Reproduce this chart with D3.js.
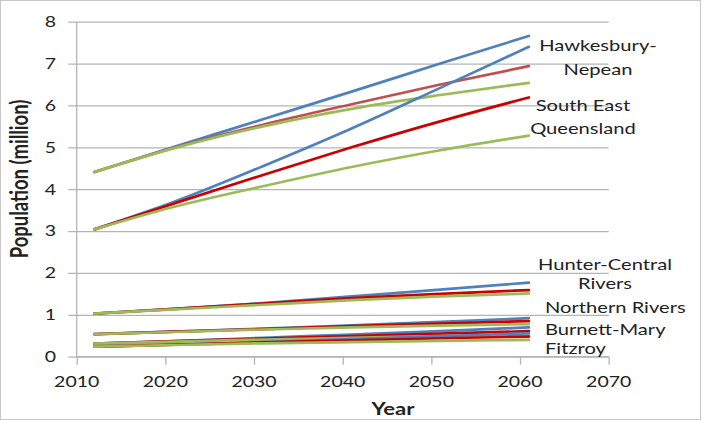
<!DOCTYPE html>
<html>
<head>
<meta charset="utf-8">
<script src="https://cdn.jsdelivr.net/npm/d3@7"></script>
<style>
  html, body { margin: 0; padding: 0; background: #fff; }
  svg { display: block; }
  text { font-family: Lato, "Open Sans", "Noto Sans", sans-serif; fill: #222; }
</style>
</head>
<body>
<div id="chart"></div>
<script>
// Projection years shared by every series
const years = [2012, 2021, 2031, 2041, 2051, 2061];

// Population projections (million), high / medium / low growth
const hawkesburyHigh = [4.41, 5.01, 5.67, 6.33, 7.00, 7.66];
const hawkesburyMed  = [4.41, 4.99, 5.54, 6.03, 6.50, 6.94];
const hawkesburyLow  = [4.41, 4.98, 5.50, 5.92, 6.25, 6.54];

const seqHigh = [3.04, 3.70, 4.55, 5.45, 6.42, 7.40];
const seqMed  = [3.04, 3.66, 4.34, 5.00, 5.62, 6.19];
const seqLow  = [3.04, 3.58, 4.07, 4.53, 4.93, 5.28];

const hunterHigh = [1.03, 1.14, 1.28, 1.44, 1.60, 1.77];
const hunterMed  = [1.03, 1.14, 1.27, 1.40, 1.50, 1.59];
const hunterLow  = [1.03, 1.13, 1.24, 1.35, 1.44, 1.51];

const northernHigh = [0.54, 0.60, 0.67, 0.75, 0.83, 0.92];
const northernMed  = [0.54, 0.60, 0.66, 0.73, 0.79, 0.85];
const northernLow  = [0.54, 0.59, 0.65, 0.70, 0.74, 0.78];

const burnettHigh = [0.31, 0.37, 0.45, 0.53, 0.61, 0.70];
const burnettMed  = [0.31, 0.37, 0.43, 0.49, 0.55, 0.61];
const burnettLow  = [0.31, 0.36, 0.41, 0.45, 0.49, 0.52];

const fitzroyHigh = [0.24, 0.29, 0.35, 0.42, 0.49, 0.56];
const fitzroyMed  = [0.24, 0.29, 0.34, 0.39, 0.44, 0.48];
const fitzroyLow  = [0.24, 0.28, 0.32, 0.35, 0.38, 0.40];

// Axis ticks
const xTicks = [2010, 2020, 2030, 2040, 2050, 2060, 2070];
const yTicks = [0, 1, 2, 3, 4, 5, 6, 7, 8];

// Colours per growth scenario
const blue = "#4F81BD", brick = "#C0504D", red = "#CC0000", green = "#9BBB59";

// Drawing order: high, medium, low (low growth ends up on top)
const series = [
  { v: hawkesburyHigh, c: blue }, { v: hawkesburyMed, c: brick }, { v: hawkesburyLow, c: green },
  { v: seqHigh, c: blue }, { v: seqMed, c: red }, { v: seqLow, c: green },
  { v: hunterHigh, c: blue }, { v: hunterMed, c: red }, { v: hunterLow, c: green },
  { v: northernHigh, c: blue }, { v: northernMed, c: red }, { v: northernLow, c: green },
  { v: burnettHigh, c: blue }, { v: burnettMed, c: red }, { v: burnettLow, c: green },
  { v: fitzroyHigh, c: blue }, { v: fitzroyMed, c: red }, { v: fitzroyLow, c: green }
];

const W = 705, H = 421;
const plot = { left: 76.7, right: 608.7, top: 21.7, bottom: 356.7 };
const SX = 1.3; // horizontal text widening

const svg = d3.select("#chart").append("svg")
  .attr("width", W).attr("height", H);

// outer frame
svg.append("rect")
  .attr("x", 0.5).attr("y", 0.5).attr("width", 700).attr("height", 419)
  .attr("fill", "#fff").attr("stroke", "#c8c8c8").attr("stroke-width", 1);

const x = d3.scaleLinear().domain([2010, 2070]).range([plot.left, plot.right]);
const y = d3.scaleLinear().domain([0, 8]).range([plot.bottom, plot.top]);

function label(sel, px, py, str, anchor, opts = {}) {
  const g = sel.append("g")
    .attr("transform", `translate(${px},${py}) scale(${SX},1)` + (opts.rotate ? ` rotate(${opts.rotate})` : ""));
  const t = g.append("text")
    .attr("text-anchor", anchor)
    .attr("font-size", opts.size || 15)
    .text(str);
  if (opts.bold) t.attr("font-weight", "bold");
  if (opts.dy) t.attr("dy", opts.dy);
  return t;
}

// horizontal gridlines + y axis ticks
const yAxis = d3.axisLeft(y).tickValues(yTicks).tickSize(-(plot.right - plot.left)).tickFormat("");
svg.append("g")
  .attr("transform", `translate(${plot.left},0)`)
  .call(yAxis)
  .call(g => g.select(".domain").remove())
  .call(g => g.selectAll(".tick line")
    .attr("x1", -8.5)
    .attr("stroke", "#b4b4b4").attr("stroke-width", 1.3));

// y axis line
svg.append("line")
  .attr("x1", plot.left).attr("x2", plot.left)
  .attr("y1", plot.top).attr("y2", plot.bottom)
  .attr("stroke", "#b4b4b4").attr("stroke-width", 1.3);

// x axis with downward ticks
const xAxis = d3.axisBottom(x).tickValues(xTicks).tickSize(8).tickFormat("");
svg.append("g")
  .attr("transform", `translate(0,${plot.bottom})`)
  .call(xAxis)
  .call(g => g.select(".domain").attr("d", `M${plot.left},0H${plot.right}`)
    .attr("stroke", "#b4b4b4").attr("stroke-width", 1.3))
  .call(g => g.selectAll(".tick line").attr("stroke", "#b4b4b4").attr("stroke-width", 1.3));

// tick labels
yTicks.forEach(v => label(svg, 56, y(v), String(v), "end", { size: 15, dy: "0.36em" }));
xTicks.forEach(v => label(svg, x(v), 387, String(v), "middle", { size: 15 }));

// axis titles
label(svg, 393, 415, "Year", "middle", { size: 17, bold: true });
label(svg, 28, 179, "Population (million)", "middle", { size: 18.5, bold: true, rotate: -90 });

// projection lines
const line = d3.line()
  .x((d, i) => x(years[i]))
  .y(d => y(d))
  .curve(d3.curveMonotoneX);

svg.append("g").selectAll("path")
  .data(series)
  .join("path")
  .attr("d", s => line(s.v))
  .attr("fill", "none")
  .attr("stroke", s => s.c)
  .attr("stroke-width", 2.7)
  .attr("stroke-linecap", "round")
  .attr("stroke-linejoin", "round");

// region labels
const regionLabels = [
  { t: "Hawkesbury-", x: 598, y: 51, a: "middle" },
  { t: "Nepean", x: 598, y: 75, a: "middle" },
  { t: "South East", x: 583, y: 111, a: "middle" },
  { t: "Queensland", x: 583, y: 134, a: "middle" },
  { t: "Hunter-Central", x: 605, y: 270, a: "middle" },
  { t: "Rivers", x: 605, y: 289, a: "middle" },
  { t: "Northern Rivers", x: 545, y: 313, a: "start" },
  { t: "Burnett-Mary", x: 545, y: 335, a: "start" },
  { t: "Fitzroy", x: 545, y: 354, a: "start" }
];
regionLabels.forEach(d => label(svg, d.x, d.y, d.t, d.a, { size: 15.5 }));
</script>
</body>
</html>
